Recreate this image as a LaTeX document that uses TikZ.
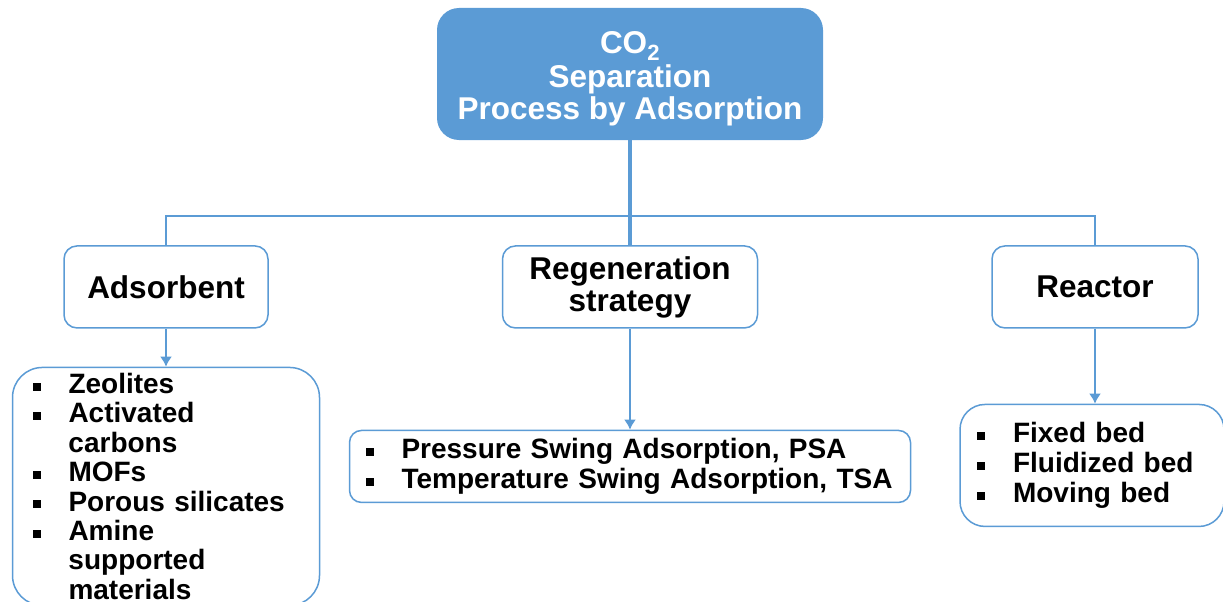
\documentclass[tikz,border=0pt]{standalone}
\usepackage{fontspec}
\setmainfont{Liberation Sans}
\usetikzlibrary{positioning, arrows.meta}
\definecolor{boxblue}{HTML}{5B9BD5}
\newcommand{\bul}{\makebox[36pt][l]{\rule[3pt]{8pt}{8pt}}}
\newcommand{\cont}{\hspace*{36pt}}

\begin{document}
\begin{tikzpicture}[x=1pt, y=-1pt, >=Latex, node distance=38pt]
  % Styles
  \tikzset{
    head/.style={rounded corners=22pt, fill=boxblue, text=white, align=center, font=\fontsize{31.5}{32}\selectfont\bfseries, minimum width=386pt, minimum height=132pt},
    box/.style={rounded corners=13pt, draw=boxblue, line width=1.5pt, fill=white, align=center, font=\fontsize{31.5}{32}\selectfont\bfseries, minimum height=82pt},
    list/.style={draw=boxblue, line width=1.5pt, fill=white, align=left, font=\fontsize{28}{30}\selectfont\bfseries, inner ysep=0pt},
    trunk/.style={draw=boxblue, line width=4pt},
    branch/.style={draw=boxblue, line width=2.5pt},
    arrow/.style={-{Latex[length=10pt,width=12pt]}, draw=boxblue, line width=2.5pt}
  }
  \useasboundingbox (0,0) rectangle (1223,602);

  % Nodes
  \node[head] (main) at (630,74) {\rule{0pt}{31pt}CO\textsubscript{2}\\[2pt]Separation\\Process by Adsorption};
  \node[box, minimum width=255pt, below=105pt of main] (regen) {Regeneration\\strategy};
  \node[box, minimum width=204pt, left=233pt of regen] (adsorbent) {Adsorbent};
  \node[box, minimum width=206pt, right=233pt of regen] (reactor) {Reactor};

  \node[list, font=\fontsize{28}{29.4}\selectfont\bfseries, rounded corners=30pt, inner xsep=20pt, text width=267pt, minimum height=238pt, below=38pt of adsorbent] (adslist)
    {\bul Zeolites\\ \bul Activated\\ \cont carbons\\ \bul MOFs\\ \bul Porous silicates\\ \bul Amine\\ \cont supported\\ \cont materials};
  \node[list, rounded corners=12pt, inner xsep=16pt, text width=529pt, minimum height=72pt, below=101pt of regen] (regenlist)
    {\bul Pressure Swing Adsorption, PSA\\ \bul Temperature Swing Adsorption, TSA};
  \node[list, rounded corners=25pt, inner xsep=17pt, text width=230pt, minimum height=122pt, below=75pt of reactor, xshift=-3pt] (reactlist)
    {\bul Fixed bed\\ \bul Fluidized bed\\ \bul Moving bed};

  \coordinate[below=76pt of main] (split);

  % Arrows
  \draw[trunk] (main.south) -- (main.south |- regen.north);
  \draw[branch] (adsorbent.north) |- (split) -| (reactor.north);
  \draw[arrow] (adsorbent.south) -- (adsorbent.south |- adslist.north);
  \draw[arrow] (regen.south) -- (regenlist.north);
  \draw[arrow] (reactor.south) -- (reactor.south |- reactlist.north);

\end{tikzpicture}
\end{document}
